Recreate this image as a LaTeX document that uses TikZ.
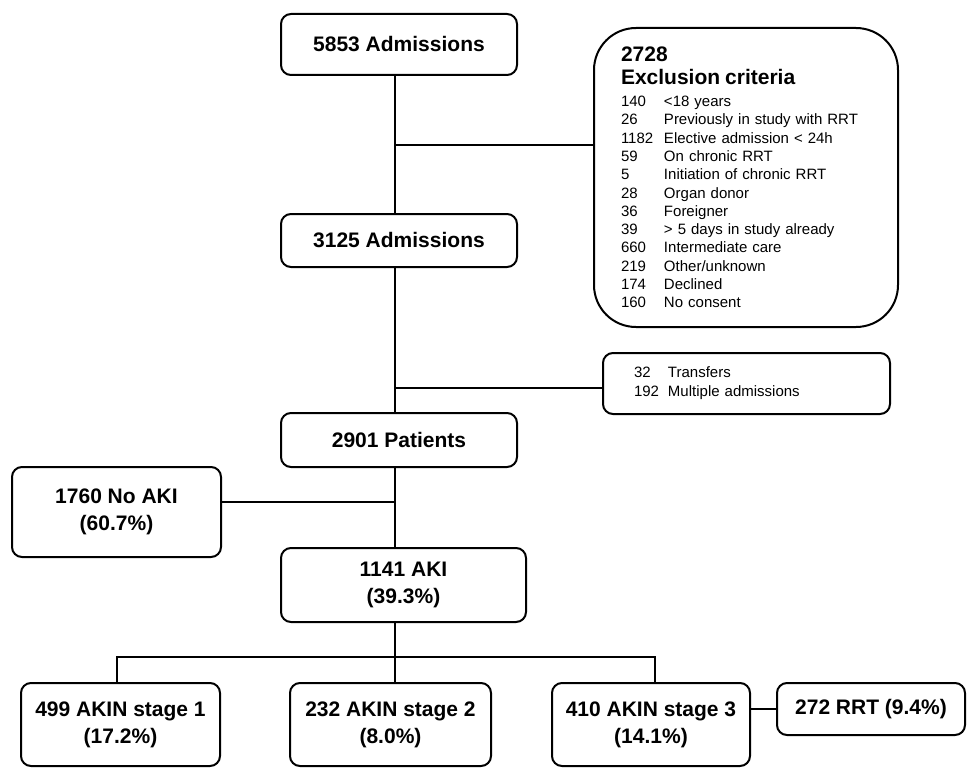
\documentclass[tikz,border=0pt]{standalone}
\usepackage{fontspec}
\setmainfont{Liberation Sans}
\usetikzlibrary{shapes,positioning}

\newcommand{\cnt}[2][43pt]{\makebox[#1][l]{#2}}

\tikzstyle{block} = [rectangle, draw, line width=2pt, fill=white, text centered, align=center, rounded corners=10pt, inner sep=0pt, minimum width=236pt, font=\fontsize{21}{27}\selectfont\bfseries]
\tikzstyle{list_block} = [rectangle, draw, line width=2pt, fill=white, align=left, rounded corners=10pt, inner sep=0pt, font=\fontsize{15}{19}\selectfont]
\tikzstyle{line} = [draw, line width=2pt]

\begin{document}
\begin{tikzpicture}
\useasboundingbox (0,0) rectangle (970pt,-768pt);

\node [block, minimum height=61pt] (adm1) at (399pt,-44.5pt) {5853 Admissions};
\node [block, below of=adm1, minimum height=53pt, node distance=196pt] (adm2) {3125 Admissions};
\node [block, below of=adm2, minimum height=54pt, node distance=199.5pt] (patients) {2901 Patients};
\node [block, below of=patients, minimum width=245pt, minimum height=74pt, node distance=145pt, xshift=4.5pt] (aki) {1141 AKI\\(39.3\%)};
\node [block, left of=patients, minimum width=209pt, minimum height=90pt, node distance=282.5pt, yshift=-72pt] (noaki) {1760 No AKI\\(60.7\%)};

\node [list_block, right of=adm1, rounded corners=42pt, text width=250pt, minimum width=304pt, minimum height=299pt, node distance=347pt, yshift=-133pt, font=\fontsize{15}{18.27}\selectfont] (excl) {{\fontsize{21}{23}\selectfont\bfseries 2728\\Exclusion criteria\par}\vspace{3.6pt}
\cnt{140}<18 years\\
\cnt{26}Previously in study with RRT\\
\cnt{1182}Elective admission < 24h\\
\cnt{59}On chronic RRT\\
\cnt{5}Initiation of chronic RRT\\
\cnt{28}Organ donor\\
\cnt{36}Foreigner\\
\cnt{39}> 5 days in study already\\
\cnt{660}Intermediate care\\
\cnt{219}Other/unknown\\
\cnt{174}Declined\\
\cnt{160}No consent};
\node [list_block, right of=adm2, text width=225pt, minimum width=287pt, minimum height=61pt, node distance=347.5pt, yshift=-143pt] (trans) {\cnt[34pt]{32}Transfers\\\cnt[34pt]{192}Multiple admissions};

\node [block, below of=aki, minimum width=201pt, minimum height=83pt, node distance=139.5pt, xshift=-13pt] (st2) {232 AKIN stage 2\\(8.0\%)};
\node [block, left of=st2, minimum width=199pt, minimum height=83pt, node distance=270pt] (st1) {499 AKIN stage 1\\(17.2\%)};
\node [block, right of=st2, minimum width=198pt, minimum height=83pt, node distance=260.5pt] (st3) {410 AKIN stage 3\\(14.1\%)};
\node [block, right of=st3, minimum width=188pt, minimum height=52pt, node distance=220pt, yshift=15.5pt] (rrt) {272 RRT (9.4\%)};

\coordinate (spine) at (395pt,0pt);
\coordinate (j1) at (395pt,-145pt);
\coordinate (j2) at (395pt,-388pt);
\coordinate (j3) at (395pt,-502pt);
\coordinate (b1) at (117pt,-657pt);
\coordinate (b3) at (655pt,-657pt);

\path [line] (adm1.south -| spine) -- (adm2.north -| spine);
\path [line] (j1) -- (j1 -| excl.west);
\path [line] (adm2.south -| spine) -- (patients.north -| spine);
\path [line] (j2) -- (j2 -| trans.west);
\path [line] (patients.south -| spine) -- (aki.north -| spine);
\path [line] (j3) -- (j3 -| noaki.east);
\path [line] (aki.south -| spine) -- (st2.north -| spine);
\path [line] (st1.north -| b1) |- (b3) -- (st3.north -| b3);
\path [line] (st3.east |- rrt.west) -- (rrt.west);

\end{tikzpicture}
\end{document}
